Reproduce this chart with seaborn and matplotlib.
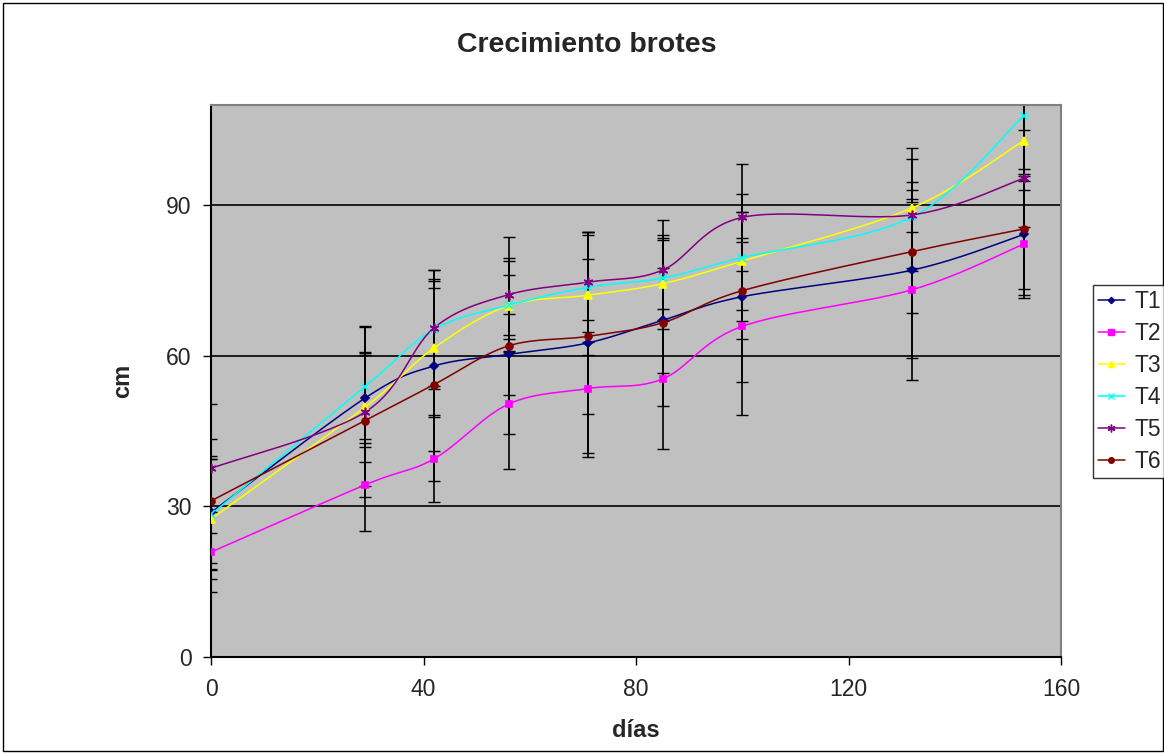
import numpy as np
import pandas as pd
import matplotlib
matplotlib.use("Agg")
import matplotlib.pyplot as plt
import seaborn as sns
from matplotlib.patches import Rectangle
from matplotlib.lines import Line2D

# ---------------- data ----------------
dias = [0, 29, 42, 56, 71, 85, 100, 132, 153]
series_names = ["T1", "T2", "T3", "T4", "T5", "T6"]
T1 = [28.8, 51.6, 58.0, 60.3, 62.6, 67.1, 71.8, 77.1, 84.2]
T2 = [20.9, 34.3, 39.5, 50.4, 53.5, 55.4, 65.9, 73.2, 82.3]
T3 = [27.5, 49.8, 61.6, 70.0, 72.1, 74.4, 78.9, 89.5, 102.9]
T4 = [28.4, 53.9, 65.3, 70.1, 73.7, 75.5, 79.6, 87.7, 107.9]
T5 = [37.6, 48.8, 65.6, 72.2, 74.7, 77.1, 87.6, 88.1, 95.4]
T6 = [31.1, 47.1, 54.3, 62.0, 63.9, 66.6, 73.0, 80.8, 85.3]

E1 = [11.2, 9.0, 16.9, 8.0, 22.0, 10.5, 16.9, 17.6, 12.1]
E2 = [8.0, 9.2, 8.7, 13.0, 13.6, 14.0, 17.6, 18.0, 10.7]
E3 = [12.0, 11.0, 13.8, 9.0, 12.0, 9.0, 9.8, 11.9, 8.0]
E4 = [11.0, 12.0, 11.8, 6.0, 11.0, 8.5, 12.6, 3.0, 12.0]
E5 = [12.9, 17.0, 11.5, 11.5, 10.0, 10.0, 10.6, 11.2, 9.7]
E6 = [12.3, 13.0, 19.2, 17.5, 15.4, 16.5, 9.7, 12.2, 12.0]

y_ticks = [0, 30, 60, 90]
x_ticks = [0, 40, 80, 120, 160]

values = [T1, T2, T3, T4, T5, T6]
errors = [E1, E2, E3, E4, E5, E6]
colors = ["#000080", "#FF00FF", "#FFFF00", "#00FFFF", "#800080", "#800000"]
markers = ["D", "s", "^", "x", (6, 2, 0), "o"]
msizes = [4, 5, 6, 6, 7, 5]

# ---------------- smoothing (Excel-like Bezier / Catmull-Rom) ----------------
def smooth(x, y, n=30):
    x = np.asarray(x, float)
    y = np.asarray(y, float)
    P = np.column_stack([x, y])
    out = []
    N = len(P)
    for i in range(N - 1):
        p0 = P[i - 1] if i > 0 else P[i]
        p1 = P[i]
        p2 = P[i + 1]
        p3 = P[i + 2] if i + 2 < N else P[i + 1]
        c1 = p1 + (p2 - p0) / 6.0
        c2 = p2 - (p3 - p1) / 6.0
        t = np.linspace(0, 1, n)[:, None]
        seg = ((1 - t) ** 3) * p1 + 3 * ((1 - t) ** 2) * t * c1 + 3 * (1 - t) * t ** 2 * c2 + t ** 3 * p2
        if i > 0:
            seg = seg[1:]
        out.append(seg)
    out = np.vstack(out)
    return out[:, 0], out[:, 1]

rows = []
for name, v in zip(series_names, values):
    sx, sy = smooth(dias, v)
    for a, b in zip(sx, sy):
        rows.append({"serie": name, "x": a, "y": b})
curves = pd.DataFrame(rows)

pts = pd.DataFrame({
    "serie": np.repeat(series_names, len(dias)),
    "dias": dias * len(series_names),
    "cm": np.concatenate(values),
    "err": np.concatenate(errors),
})

# ---------------- figure ----------------
sns.set_theme(style="white")
plt.rcParams["font.family"] = ["Liberation Sans", "DejaVu Sans"]

fig = plt.figure(figsize=(11.64, 7.53), dpi=100)
fig.patch.set_facecolor("white")
ax = fig.add_axes([211 / 1164, 1 - 657 / 753, 850 / 1164, 552 / 753])
ax.set_facecolor("#C0C0C0")

for yv in y_ticks[1:]:
    ax.axhline(yv, color="black", lw=1.2, zorder=1)

palette = dict(zip(series_names, colors))
sns.lineplot(data=curves, x="x", y="y", hue="serie", palette=palette,
             sort=False, estimator=None, units="serie", lw=1.1, ax=ax,
             legend=False, zorder=3)

for name in series_names:
    d = pts[pts["serie"] == name]
    ax.errorbar(d["dias"], d["cm"], yerr=d["err"], fmt="none", ecolor="black",
                elinewidth=1.2, capsize=4, capthick=1.0, zorder=2)
for name, c, m, ms in zip(series_names, colors, markers, msizes):
    d = pts[pts["serie"] == name]
    ax.plot(d["dias"], d["cm"], linestyle="none", marker=m, color=c,
            markersize=ms, markeredgecolor=c, markeredgewidth=1.2, zorder=4)

ax.set_xlim(0, 160)
ax.set_ylim(0, 110)
ax.set_xticks(x_ticks)
ax.set_yticks(y_ticks)
ax.tick_params(axis="both", which="major", labelsize=16.5, length=6, width=1,
               direction="out", color="black", bottom=True, left=True)
ax.tick_params(axis="x", pad=9)
ax.tick_params(axis="y", pad=8)

for side in ["left", "bottom"]:
    ax.spines[side].set_color("black")
    ax.spines[side].set_linewidth(1.5)
for side in ["top", "right"]:
    ax.spines[side].set_color("#808080")
    ax.spines[side].set_linewidth(1.5)

ax.set_xlabel("días", fontsize=17, fontweight="bold", labelpad=13)
ax.set_ylabel("cm", fontsize=17, fontweight="bold", labelpad=23)

fig.text(0.504, 0.94, "Crecimiento brotes", ha="center", va="center",
         fontsize=20.5, fontweight="bold")

handles = [Line2D([0], [0], color=c, marker=m, markersize=ms * 0.8, lw=1.1,
                  markeredgecolor=c) for c, m, ms in zip(colors, markers, msizes)]
leg = fig.legend(handles, series_names, loc="upper left",
                 bbox_to_anchor=(1093 / 1164, 1 - 285 / 753), frameon=True,
                 fontsize=16.5, handlelength=1.2, handletextpad=0.4,
                 borderpad=0.2, labelspacing=0.4, borderaxespad=0,
                 fancybox=False, edgecolor="black")
leg.get_frame().set_linewidth(1.0)

fig.patches.append(Rectangle((0.003, 0.003), 0.996, 0.993, transform=fig.transFigure,
                             fill=False, edgecolor="black", lw=1.0))

fig.savefig("out.png", dpi=100)
